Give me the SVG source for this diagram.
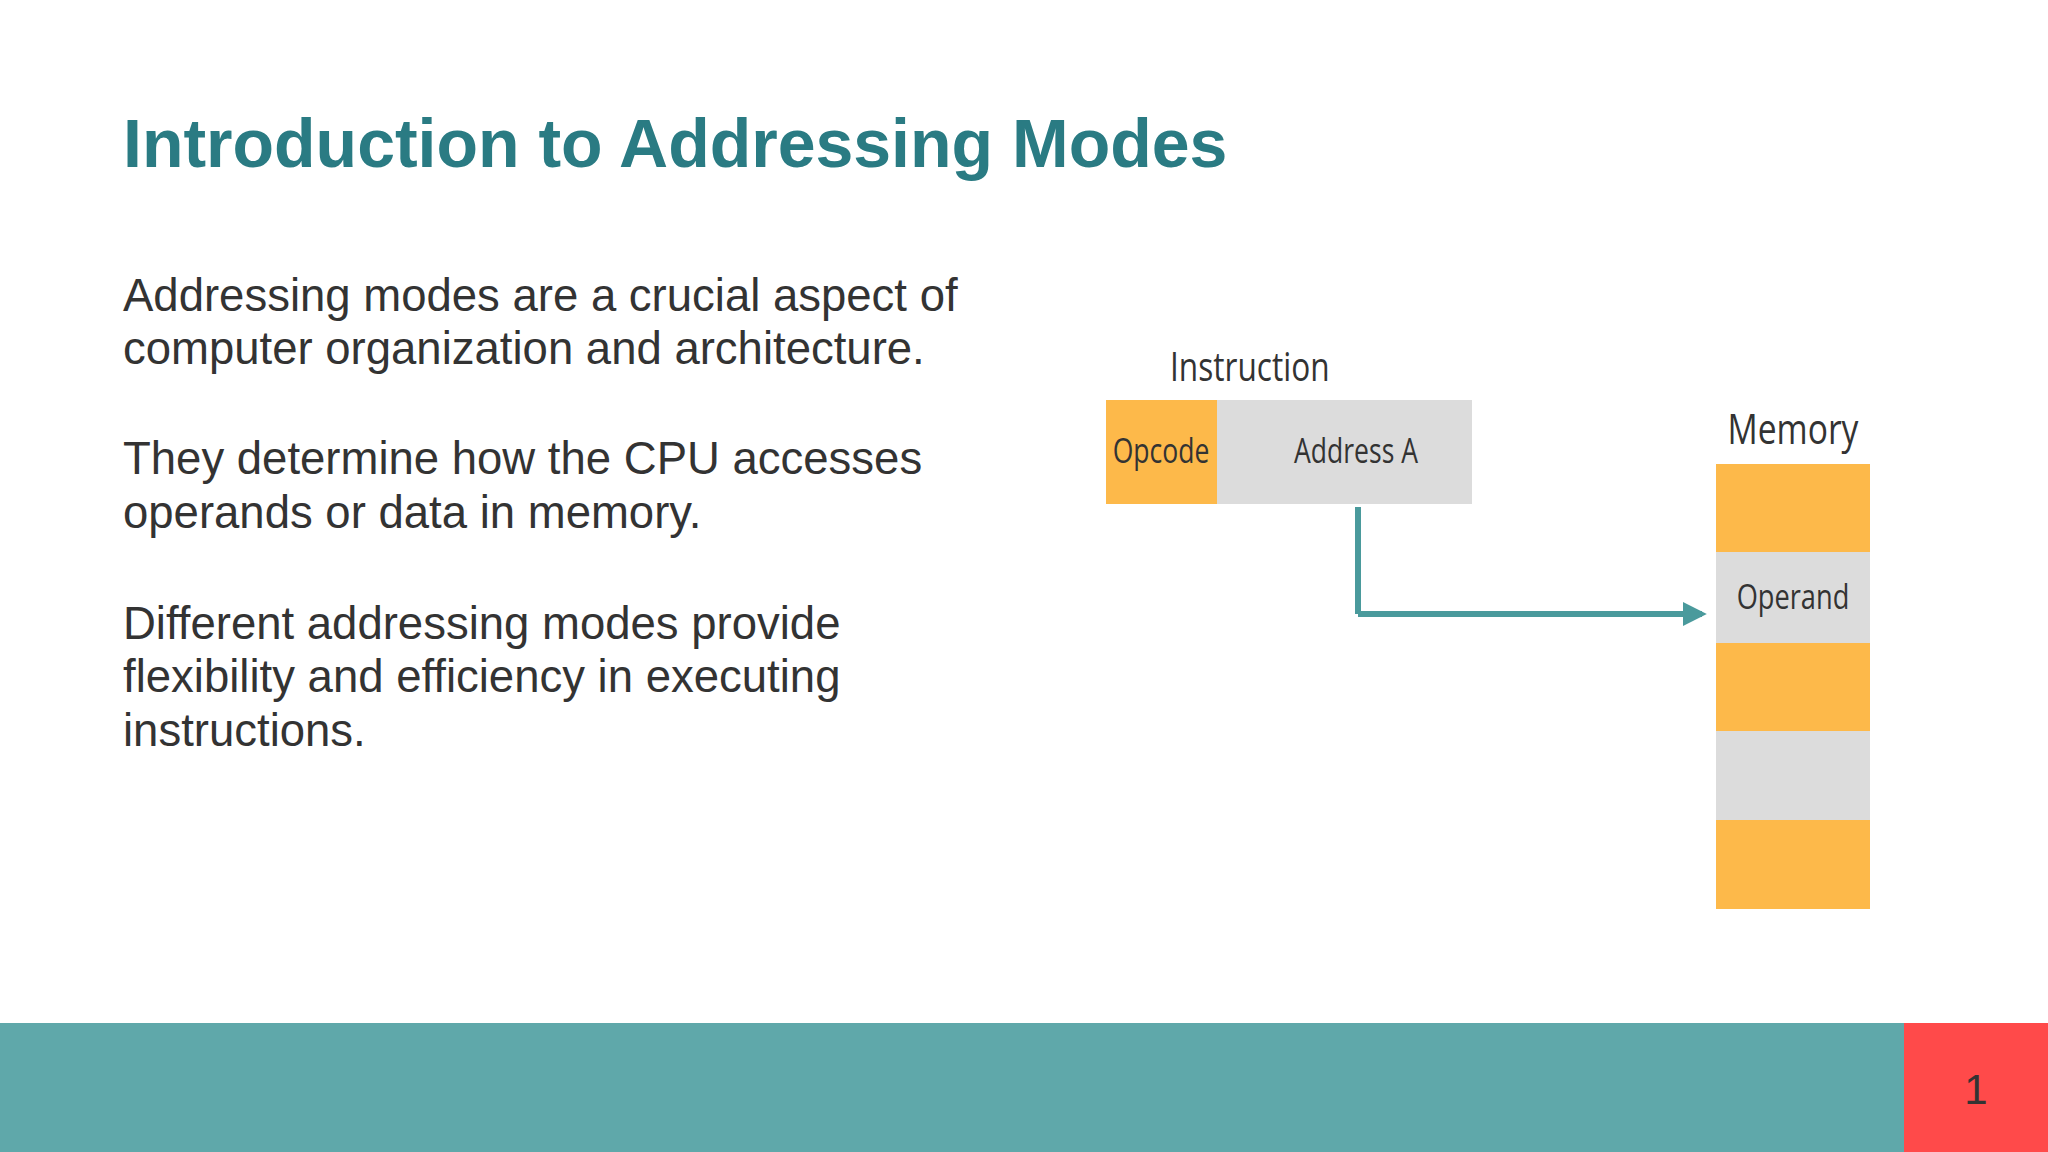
<svg xmlns="http://www.w3.org/2000/svg" width="2048" height="1152" viewBox="0 0 2048 1152">
<style>
.body{font-family:"Liberation Sans",Arial,sans-serif;font-size:45.5px;fill:#333}
.dg{font-family:"Open Sans","DejaVu Sans Condensed",sans-serif;fill:#333}
.or{fill:#fdb94a}.gr{fill:#dcdcdc}
</style>
<defs><marker id="ah" viewBox="0 0 10 10" refX="8" refY="5" markerWidth="4" markerHeight="4" orient="auto"><path d="M0,0L10,5L0,10z" fill="#4a9a9c"/></marker></defs>
<rect width="2048" height="1152" fill="#fff"/>
<text x="123" y="167" font-family="Liberation Sans,Arial,sans-serif" font-weight="bold" font-size="68" fill="#2a7b83">Introduction to Addressing Modes</text>
<g class="body">
<text x="123" y="311">Addressing modes are a crucial aspect of</text>
<text x="123" y="364">computer organization and architecture.</text>
<text x="123" y="474">They determine how the CPU accesses</text>
<text x="123" y="528">operands or data in memory.</text>
<text x="123" y="639">Different addressing modes provide</text>
<text x="123" y="692">flexibility and efficiency in executing</text>
<text x="123" y="746">instructions.</text>
</g>
<g id="instruction">
<text class="dg" x="1170" y="381" font-size="40" transform="translate(1170 0) scale(0.79 1) translate(-1170 0)">Instruction</text>
<rect class="or" x="1106" y="400" width="111" height="104"/>
<rect class="gr" x="1217" y="400" width="255" height="104"/>
<text class="dg" x="1161" y="463" font-size="34" text-anchor="middle" transform="translate(1161 0) scale(0.78 1) translate(-1161 0)">Opcode</text>
<text class="dg" x="1356" y="463" font-size="34" text-anchor="middle" transform="translate(1356 0) scale(0.78 1) translate(-1356 0)">Address A</text>
</g>
<g id="memory">
<text class="dg" x="1793" y="444" font-size="42" text-anchor="middle" transform="translate(1793 0) scale(0.8 1) translate(-1793 0)">Memory</text>
<rect class="or" x="1716" y="464" width="154" height="88"/>
<rect class="gr" x="1716" y="552" width="154" height="91"/>
<rect class="or" x="1716" y="643" width="154" height="88"/>
<rect class="gr" x="1716" y="731" width="154" height="89"/>
<rect class="or" x="1716" y="820" width="154" height="89"/>
<text class="dg" x="1793" y="609" font-size="34" text-anchor="middle" transform="translate(1793 0) scale(0.8 1) translate(-1793 0)">Operand</text>
</g>
<g id="connectors" fill="none" stroke="#4a9a9c" stroke-width="6">
<path d="M1358 507V614"/>
<path d="M1358 614H1702" marker-end="url(#ah)"/>
</g>
<rect y="1023" width="1904" height="129" fill="#5fa8aa"/>
<rect x="1904" y="1023" width="144" height="129" fill="#ff4a4a"/>
<text x="1976" y="1104" font-family="Liberation Sans,Arial,sans-serif" font-size="42" fill="#333" text-anchor="middle">1</text>
</svg>
